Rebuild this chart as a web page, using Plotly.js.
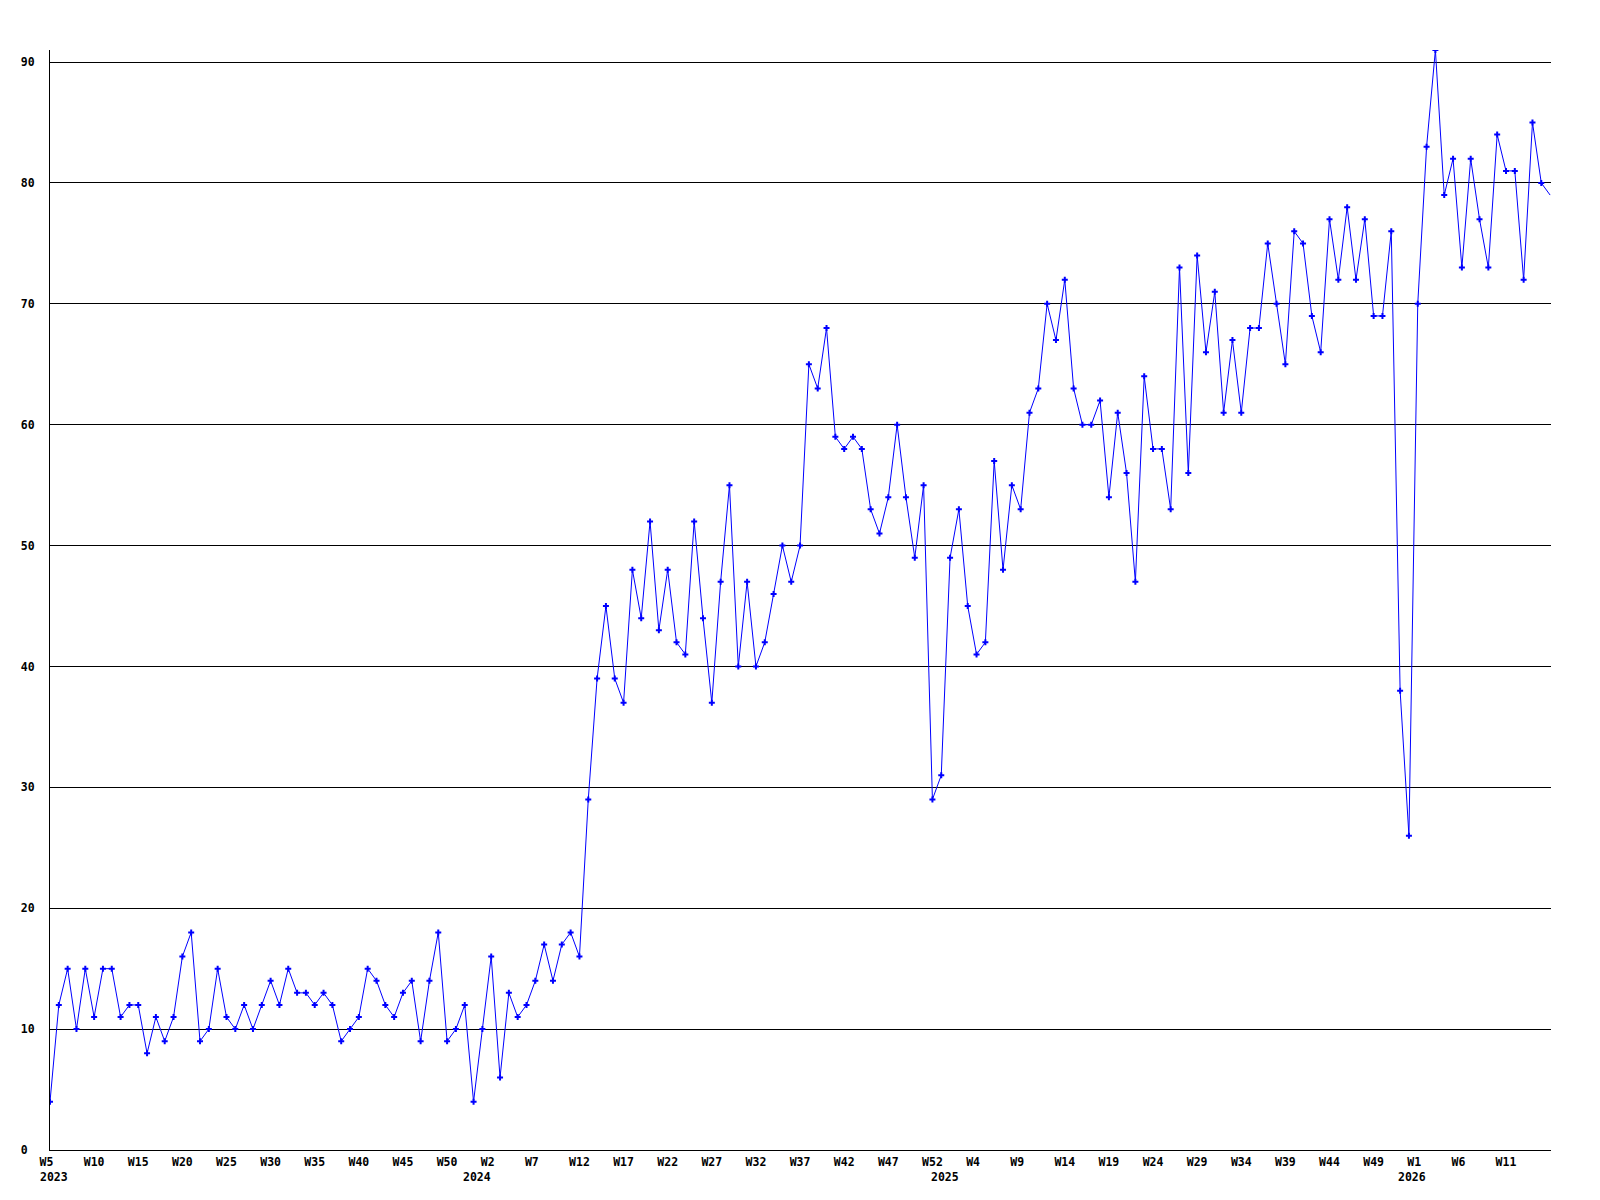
<!DOCTYPE html>
<html>
<head>
<meta charset="utf-8">
<script src="https://cdn.plot.ly/plotly-3.0.1.min.js"></script>
<style>
  html, body { margin: 0; padding: 0; background: #ffffff; }
  #chart { width: 1600px; height: 1200px; }
</style>
</head>
<body>
<div id="chart"></div>
<script>
// Weekly values, one array per year (first point = W5 2023)
const values2023 = [4,12,15,10,15,11,15,15,11,12,12,8,11,9,11,16,18,9,10,15,11,10,12,10,12,14,12,15,13,13,12,13,12,9,10,11,15,14,12,11,13,14,9,14,18,9,10,12];
const values2024 = [4,10,16,6,13,11,12,14,17,14,17,18,16,29,39,45,39,37,48,44,52,43,48,42,41,52,44,37,47,55,40,47,40,42,46,50,47,50,65,63,68,59,58,59,58,53,51,54,60,54,49,55,29];
const values2025 = [31,49,53,45,41,42,57,48,55,53,61,63,70,67,72,63,60,60,62,54,61,56,47,64,58,58,53,73,56,74,66,71,61,67,61,68,68,75,70,65,76,75,69,66,77,72,78,72,77,69,69,76,38];
const values2026 = [26,70,83,91,79,82,73,82,77,73,84,81,81,72,85,80,79];

// Week tick labels (every 5th point)
const tickIndex = [0,5,10,15,20,25,30,35,40,45,50,55,60,65,70,75,80,85,90,95,100,105,110,115,120,125,130,135,140,145,150,155,160,165];
const tickLabels = ["W5","W10","W15","W20","W25","W30","W35","W40","W45","W50","W2","W7","W12","W17","W22","W27","W32","W37","W42","W47","W52","W4","W9","W14","W19","W24","W29","W34","W39","W44","W49","W1","W6","W11"];

// Year labels, placed at the first week of each year
const yearLabels = ["2023","2024","2025","2026"];
const yearStartIndex = [0,48,101,154];

// Y axis ticks
const yTicks = [0,10,20,30,40,50,60,70,80,90];

const values = values2023.concat(values2024, values2025, values2026);
const xs = values.map((_, i) => i);
const nMarked = values.length - 1; // last value only visible as the line leaving the plot

const NB = "\u00a0";
const padTo = (s, n) => s + NB.repeat(Math.max(0, n - s.length));

const FONT = '"DejaVu Sans Mono", "Liberation Mono", monospace';

const traces = [
  {
    x: xs, y: values, type: 'scatter', mode: 'lines',
    line: { color: '#0000ff', width: 1 },
    hoverinfo: 'skip'
  },
  {
    x: xs.slice(0, nMarked), y: values.slice(0, nMarked), type: 'scatter', mode: 'markers',
    marker: { color: '#0000ff', symbol: 'cross', size: 5, line: { width: 0 } }
  }
];

const layout = {
  width: 1600, height: 1200,
  margin: { l: 50, r: 49, t: 50, b: 50, pad: 0 },
  paper_bgcolor: '#ffffff', plot_bgcolor: '#ffffff',
  showlegend: false,
  font: { family: FONT, size: 11.5, color: '#000000', weight: 'bold' },
  xaxis: {
    range: [0, 170.1], fixedrange: true,
    tickmode: 'array', tickvals: tickIndex, ticktext: tickLabels.map(s => padTo(s, 3)),
    tickangle: 0, ticks: '', ticklabelstandoff: 1,
    showgrid: false, zeroline: false,
    showline: true, linecolor: '#000000', linewidth: 1,
    tickfont: { family: FONT, size: 11.5, color: '#000000', weight: 'bold' }
  },
  yaxis: {
    range: [0, 91], fixedrange: true,
    tickmode: 'array', tickvals: yTicks, ticktext: yTicks.map(v => padTo(String(v), 2)),
    ticks: '', ticklabelstandoff: 12,
    showgrid: true, gridcolor: '#000000', gridwidth: 1,
    zeroline: false,
    showline: true, linecolor: '#000000', linewidth: 1,
    tickfont: { family: FONT, size: 11.5, color: '#000000', weight: 'bold' }
  },
  annotations: yearLabels.map((t, i) => ({
    text: t, x: yearStartIndex[i], xref: 'x', y: -0.0243, yref: 'paper',
    xanchor: 'left', yanchor: 'middle', xshift: -12.5, showarrow: false,
    font: { family: FONT, size: 11.5, color: '#000000', weight: 'bold' }
  }))
};

Plotly.newPlot('chart', traces, layout, { displayModeBar: false, staticPlot: true });
</script>
</body>
</html>
